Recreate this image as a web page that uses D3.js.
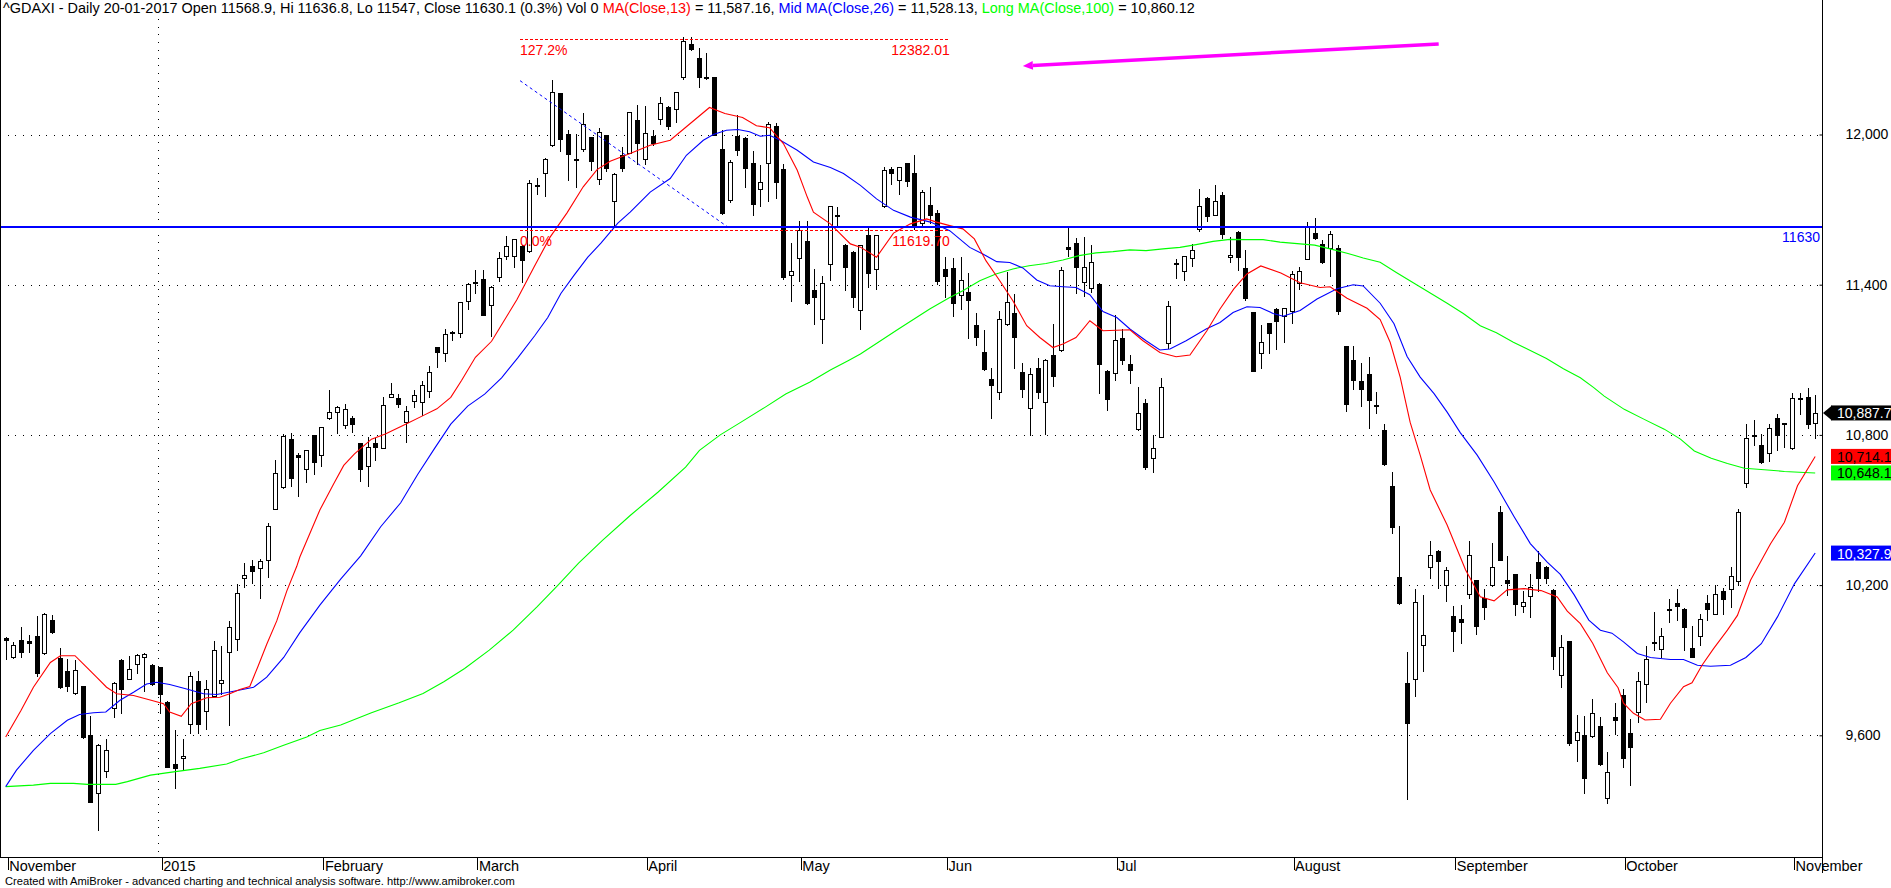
<!DOCTYPE html>
<html>
<head>
<meta charset="utf-8">
<script src="https://cdn.jsdelivr.net/npm/d3@7"></script>
<style>
  body { margin: 0; background: #fff; }
  svg { display: block; font-family: "Liberation Sans", Arial, sans-serif; }
  text { white-space: pre; }
</style>
</head>
<body>
<svg id="chart" width="1891" height="888"></svg>
<script>
// ^GDAXI daily bars, 28-11-2014 .. 05-11-2015
const openP = [
  9988, 9913, 9981, 9977, 9997, 9928, 10061, 9907, 9858, 9770,
  9795, 9600, 9368, 9456, 9710, 9902, 9825, 9885, 9913, 9882,
  9872, 9735, 9485, 9511, 9644, 9815, 9698, 9758, 9808, 9932,
  9984, 10228, 10275, 10268, 10302, 10505, 10591, 10783, 10721, 10663,
  10799, 10719, 10867, 10891, 10840, 10867, 10766, 10677, 10766, 10748,
  10952, 10947, 10851, 10934, 10931, 10976, 11151, 11129, 11210, 11208,
  11336, 11410, 11421, 11317, 11429, 11513, 11513, 11556, 11534, 11799,
  11847, 11957, 12164, 12003, 11900, 11944, 11989, 11823, 11997, 11735,
  11920, 11927, 12057, 11904, 11993, 12060, 12111, 12100, 12228, 12361,
  12307, 12224, 12228, 11944, 11737, 11995, 11988, 11888, 11784, 11886,
  12035, 11864, 11440, 11507, 11576, 11379, 11263, 11483, 11676, 11560,
  11532, 11299, 11597, 11463, 11713, 11864, 11817, 11886, 11846, 11646,
  11717, 11686, 11463, 11467, 11359, 11372, 11239, 11132, 11023, 10972,
  11243, 11287, 11052, 10907, 11067, 10933, 11119, 11139, 11552, 11567,
  11409, 11385, 11403, 11056, 11049, 11189, 11083, 10823, 10927, 10707,
  10793, 11169, 11483, 11453, 11507, 11623, 11747, 11679, 11759, 11509,
  11612, 11467, 11289, 11127, 11247, 11303, 11276, 11293, 11405, 11503,
  11608, 11564, 11548, 11548, 11154, 11101, 11014, 11044, 10917, 10821,
  10596, 10232, 9808, 9825, 9961, 10271, 10338, 10202, 10076, 10063,
  10165, 10219, 10150, 10199, 10493, 10219, 10243, 10117, 10156, 10292,
  10273, 10181, 9841, 9976, 9582, 9600, 9597, 9637, 9349, 9674,
  9761, 9608, 9692, 9803, 9968, 9943, 10100, 10130, 10106, 9950,
  9997, 10130, 10086, 10175, 10185, 10215, 10608, 10794, 10759, 10727,
  10866, 10843, 10747, 10942, 10953, 10846
];
const highP = [
  9992, 9973, 10033, 10000, 10077, 10090, 10081, 9947, 9905, 9902,
  9797, 9677, 9565, 9587, 9811, 9904, 9918, 9923, 9927, 9884,
  9874, 9737, 9620, 9587, 9852, 9855, 9819, 9977, 9958, 10057,
  10203, 10287, 10302, 10306, 10449, 10700, 10803, 10807, 10726, 10740,
  10801, 10832, 10979, 10914, 10923, 10875, 10768, 10791, 10787, 10952,
  11008, 10963, 10915, 10980, 11016, 11076, 11153, 11224, 11217, 11332,
  11406, 11458, 11460, 11394, 11529, 11595, 11584, 11558, 11818, 11828,
  11906, 12217, 12166, 12016, 12003, 12085, 11991, 12024, 11999, 11846,
  11952, 12090, 12118, 12115, 12017, 12150, 12113, 12170, 12389, 12389,
  12345, 12325, 12230, 12017, 11900, 12077, 11990, 11935, 11880, 12051,
  12044, 11884, 11567, 11653, 11653, 11463, 11436, 11713, 11710, 11562,
  11534, 11559, 11630, 11597, 11870, 11870, 11870, 11888, 11917, 11780,
  11790, 11697, 11510, 11507, 11512, 11445, 11285, 11220, 11067, 11296,
  11449, 11363, 11089, 11069, 11109, 11103, 11243, 11469, 11629, 11587,
  11589, 11559, 11405, 11058, 11280, 11223, 11119, 10992, 10943, 10800,
  11029, 11336, 11503, 11513, 11563, 11783, 11749, 11800, 11769, 11589,
  11614, 11539, 11291, 11240, 11249, 11307, 11307, 11456, 11472, 11651,
  11667, 11580, 11613, 11559, 11156, 11154, 11088, 11110, 10973, 10845,
  10650, 10435, 9931, 10183, 10161, 10378, 10340, 10271, 10115, 10120,
  10378, 10221, 10186, 10370, 10514, 10317, 10245, 10175, 10243, 10338,
  10275, 10183, 10001, 9978, 9681, 9678, 9745, 9674, 9532, 9730,
  9783, 9665, 9854, 9956, 10092, 10027, 10143, 10183, 10108, 10035,
  10086, 10162, 10201, 10189, 10274, 10504, 10842, 10858, 10803, 10842,
  10885, 10849, 10969, 10969, 10986, 10959
];
const lowP = [
  9905, 9909, 9911, 9931, 9838, 9925, 10008, 9788, 9776, 9766,
  9589, 9333, 9223, 9434, 9673, 9689, 9823, 9848, 9776, 9802,
  9689, 9472, 9388, 9461, 9609, 9609, 9625, 9756, 9766, 9642,
  9940, 10193, 10207, 10150, 10233, 10503, 10589, 10595, 10555, 10611,
  10645, 10677, 10865, 10806, 10827, 10811, 10615, 10597, 10698, 10746,
  10950, 10912, 10770, 10912, 10880, 10950, 11073, 11097, 11180, 11192,
  11304, 11368, 11278, 11196, 11413, 11501, 11470, 11409, 11532, 11762,
  11754, 11955, 11936, 11820, 11791, 11933, 11857, 11802, 11855, 11635,
  11854, 11925, 11884, 11884, 11957, 12040, 12021, 12050, 12220, 12339,
  12188, 12222, 11998, 11681, 11730, 11920, 11790, 11677, 11714, 11734,
  11746, 11423, 11336, 11416, 11323, 11243, 11169, 11419, 11630, 11379,
  11309, 11222, 11389, 11383, 11711, 11801, 11764, 11793, 11623, 11640,
  11646, 11403, 11349, 11273, 11303, 11189, 11159, 11061, 10867, 10943,
  11239, 11069, 10952, 10800, 10949, 10803, 10996, 11137, 11516, 11365,
  11356, 11372, 10967, 10899, 11019, 11083, 11007, 10821, 10665, 10653,
  10791, 11149, 11425, 11419, 11476, 11613, 11656, 11677, 11585, 11489,
  11459, 11339, 11054, 11069, 11127, 11143, 11173, 11249, 11383, 11501,
  11583, 11487, 11433, 11282, 10896, 10985, 10916, 10826, 10886, 10681,
  10407, 10126, 9344, 9756, 9858, 10227, 10190, 10136, 9935, 9967,
  10148, 10005, 10063, 10197, 10299, 10159, 10082, 10092, 10074, 10178,
  10210, 9866, 9792, 9560, 9497, 9369, 9595, 9483, 9329, 9604,
  9475, 9400, 9652, 9734, 9940, 9911, 10053, 10062, 9942, 9911,
  9960, 10062, 10084, 10086, 10112, 10199, 10590, 10760, 10688, 10694,
  10740, 10750, 10745, 10885, 10827, 10787
];
const closeP = [
  9980, 9960, 9931, 9968, 9848, 10085, 10011, 9792, 9796, 9862,
  9593, 9335, 9563, 9543, 9809, 9784, 9865, 9921, 9925, 9804,
  9764, 9474, 9470, 9519, 9838, 9645, 9783, 9940, 9819, 10032,
  10167, 10240, 10255, 10297, 10436, 10648, 10796, 10626, 10710, 10738,
  10690, 10830, 10891, 10912, 10904, 10844, 10663, 10751, 10751, 10920,
  10963, 10923, 10896, 10960, 11000, 11052, 11132, 11204, 11212, 11330,
  11404, 11408, 11280, 11392, 11505, 11553, 11582, 11498, 11807, 11796,
  11904, 12169, 11984, 11923, 11904, 12040, 11896, 12008, 11867, 11844,
  11867, 12088, 11968, 12004, 11968, 12124, 12033, 12168, 12375, 12341,
  12228, 12231, 12000, 11686, 11890, 11940, 11866, 11723, 11810, 12040,
  11810, 11430, 11456, 11619, 11325, 11352, 11407, 11713, 11678, 11470,
  11349, 11559, 11446, 11597, 11857, 11846, 11870, 11814, 11634, 11770,
  11679, 11416, 11436, 11327, 11419, 11339, 11193, 11063, 10999, 11263,
  11329, 11193, 10983, 11043, 10973, 11099, 11036, 11459, 11541, 11469,
  11469, 11489, 11083, 10943, 11179, 11099, 11059, 10889, 10673, 10747,
  10993, 11316, 11487, 11513, 11539, 11716, 11673, 11733, 11603, 11520,
  11509, 11347, 11056, 11173, 11209, 11253, 11306, 11443, 11453, 11635,
  11585, 11490, 11602, 11293, 10924, 11018, 10985, 10941, 10921, 10683,
  10432, 10128, 9649, 10132, 10001, 10320, 10297, 10260, 10017, 10051,
  10320, 10038, 10112, 10271, 10301, 10210, 10123, 10133, 10191, 10227,
  10230, 9915, 9951, 9570, 9612, 9428, 9688, 9485, 9453, 9661,
  9511, 9555, 9816, 9903, 9972, 9996, 10104, 10116, 10033, 9913,
  10066, 10106, 10165, 10146, 10236, 10491, 10789, 10798, 10690, 10829,
  10799, 10847, 10949, 10949, 10842, 10888
];

// moving averages, [bar index, value]
const maShort = [
  [0,9593],[2,9700],[3.6,9792],[5.8,9891],[7.1,9918],[9,9918],[10.3,9878],[11.8,9832],[13.1,9792],
  [14.4,9766],[16.6,9759],[19,9739],[20.5,9726],[21.3,9693],[22.8,9676],[24.1,9726],[26.1,9750],
  [27.8,9752],[29.1,9766],[30.4,9783],[31.7,9795],[32.8,9878],[33.9,9964],[35.2,10057],[36.5,10176],
  [37.8,10275],[38.2,10312],[40.8,10500],[42.6,10605],[43.9,10678],[45.3,10724],[47.5,10783],
  [49.3,10804],[52,10844],[54.2,10877],[56,10904],[57.8,10950],[59.2,11017],[61,11110],[63.1,11174],
  [66.4,11341],[68.6,11470],[70.7,11590],[72.9,11687],[75,11791],[76.8,11860],[78.5,11893],
  [81.1,11924],[83.7,11957],[86.3,11977],[88.4,12031],[91.4,12108],[93.4,12084],[95.7,12068],
  [97.5,12035],[99.2,12027],[101,11964],[102.8,11857],[104.1,11750],[104.9,11690],[107.1,11643],
  [109.7,11563],[111,11550],[113.1,11510],[115.3,11606],[117.5,11643],[119.6,11663],[120.9,11650],
  [122.6,11636],[124.3,11623],[125.8,11583],[127.3,11496],[129.1,11416],[130.8,11336],[132.6,11236],
  [134.3,11189],[136,11149],[137.3,11163],[139,11189],[140.8,11256],[142.5,11216],[146,11220],
  [147.7,11176],[149.9,11129],[152,11112],[153.8,11119],[156,11216],[157.7,11303],[159.5,11383],
  [161.2,11443],[163,11475],[165.6,11447],[168.1,11408],[170.7,11389],[172,11392],[174.2,11346],
  [176.8,11306],[178.5,11261],[179.8,11170],[181.1,11031],[182.4,10850],[183.7,10719],[185,10580],
  [187.2,10440],[189.6,10260],[191.5,10153],[193.3,10137],[195,10181],[197.2,10186],[199.4,10178],
  [201.5,10153],[202.8,10096],[204.5,10046],[206.1,9968],[208,9850],[209.4,9790],[210.1,9728],
  [211.4,9688],[212.9,9661],[214.9,9664],[216.2,9728],[217.9,9794],[219,9810],[220.3,9880],
  [221.8,9946],[223.6,10020],[224.9,10079],[226.6,10219],[229.2,10365],[231,10451],[232.7,10597],
  [235,10714]
];
const maMid = [
  [0,9395],[1.4,9461],[3.6,9540],[5.8,9607],[8,9660],[9.6,9683],[11.4,9690],[13,9693],[14.8,9739],
  [16.6,9772],[18.3,9805],[19.6,9812],[21.3,9803],[23.5,9785],[25.7,9766],[27.4,9763],[29.6,9776],
  [32.2,9792],[33.9,9832],[36.1,9911],[38.2,10010],[40.8,10120],[43.5,10224],[46.1,10317],
  [48.7,10433],[51.3,10529],[53.5,10642],[55.7,10746],[57.8,10843],[60,10915],[62.2,10963],
  [64.4,11028],[66.5,11108],[68.7,11196],[70.4,11269],[72.1,11365],[73.8,11437],[75.6,11510],
  [77.3,11566],[79.5,11646],[81.1,11690],[83.7,11770],[86.3,11824],[88.4,11917],[90.6,11977],
  [91.9,12000],[93.6,12017],[95.1,12020],[96.6,12011],[98,11993],[99.2,11997],[100.6,11977],
  [102.8,11937],[104.9,11890],[107.1,11868],[108.8,11844],[111,11797],[113.1,11743],[115.3,11697],
  [117.5,11670],[120.1,11650],[122.6,11616],[125.2,11549],[126.9,11523],[128.7,11492],[130.4,11489],
  [132.1,11467],[133.9,11419],[135.6,11396],[137.3,11392],[139,11389],[140.8,11360],[142.5,11293],
  [144.3,11269],[146,11223],[148.1,11176],[149.9,11139],[151.2,11143],[153.3,11176],[155.9,11223],
  [157.7,11249],[159.4,11289],[161.2,11312],[162.9,11309],[164.6,11285],[165.9,11274],[168.1,11297],
  [170.3,11343],[172.9,11384],[175,11400],[176.3,11395],[178.5,11326],[180.3,11244],[182,11113],
  [183.7,11031],[185.5,10965],[187.2,10891],[188.9,10809],[191.1,10719],[193.3,10612],[195.9,10473],
  [198,10366],[200.2,10292],[201.9,10243],[203.7,10161],[205.6,10060],[207.1,10020],[208.6,10008],
  [210.1,9973],[211.9,9927],[213.6,9911],[216.2,9903],[217.9,9903],[219.7,9880],[221.4,9876],
  [224,9880],[226,9911],[228,9966],[230.1,10073],[232.3,10205],[235,10328]
];
const maLong = [
  [0,9395],[3.6,9401],[5.8,9408],[8.8,9408],[10.6,9404],[14.3,9404],[15.8,9415],[18.8,9441],
  [21.8,9454],[25.2,9468],[28.7,9485],[30.4,9504],[33.5,9530],[36.1,9560],[39.1,9593],[40.8,9619],
  [43.5,9641],[47.5,9690],[51.1,9730],[54.2,9767],[56.9,9814],[59.6,9867],[62.8,9940],[65.9,10020],
  [69,10113],[71.7,10199],[74.4,10288],[77.5,10379],[81.1,10478],[84.7,10571],[88.3,10671],
  [90.1,10738],[92.8,10800],[95.5,10851],[98.6,10910],[101.3,10963],[104.4,11010],[107.1,11059],
  [109.4,11096],[111,11123],[115.9,11222],[120,11303],[122.6,11349],[124.3,11376],[126.5,11416],
  [128.6,11443],[130.8,11463],[132.9,11476],[135.1,11485],[137.3,11499],[139.4,11516],[141.6,11527],
  [143.8,11532],[146,11539],[148.1,11536],[150.3,11543],[152.5,11549],[154.6,11560],[156.8,11573],
  [159,11581],[161.2,11580],[163.3,11580],[165.5,11570],[168.1,11563],[170,11558],[172,11543],
  [174.2,11526],[176.3,11507],[178.5,11490],[180.6,11449],[182.8,11408],[185,11367],[187.2,11326],
  [189.3,11285],[191.5,11236],[193.6,11208],[195.8,11170],[198,11137],[200.1,11105],[202.3,11064],
  [204.5,11028],[206.2,10990],[207.6,10955],[210.2,10902],[212.8,10862],[215.4,10823],[217.5,10783],
  [219.3,10736],[221.5,10707],[223.6,10686],[225.8,10667],[228.4,10661],[231,10654],[233.6,10650],
  [235,10648]
];

const priceTicks = [9600, 10200, 10800, 11400, 12000];
const monthLabels = ["November", "2015", "February", "March", "April", "May", "Jun", "Jul",
  "August", "September", "October", "November"];
const monthStart = [0, 20, 41, 61, 83, 103, 122, 144, 167, 188, 210, 232];
const yearStart = [20];

// drawing tools on the chart
const hLine = 11630;
const fibLevels = [12382.01, 11619.70];
const fibPct = ["127.2%", "0.0%"];
const fibSpan = [66.8, 122.6];
const trendLine = [[66.8, 12215], [93.8, 11630]];
const arrowLine = [[186.1, 12362], [132.1, 12274]];

const lastValues = [10887.7, 10714.1, 10648.1, 10327.9];
const lastFill = ["#000000", "#ff0000", "#00ff00", "#0000ff"];
const lastInk = ["#ffffff", "#000000", "#000000", "#ffffff"];

const titleParts = [
  "^GDAXI - Daily 20-01-2017 Open 11568.9, Hi 11636.8, Lo 11547, Close 11630.1 (0.3%) Vol 0 ",
  "MA(Close,13)", " = 11,587.16, ", "Mid MA(Close,26)", " = 11,528.13, ",
  "Long MA(Close,100)", " = 10,860.12"
];
const titleInk = ["#000", "#ff0000", "#000", "#0000ff", "#000", "#00ff00", "#000"];

const W = 1891, H = 888;
const PLOT_R = 1822, AXIS_Y = 857;

const svg = d3.select("#chart");
const x = d3.scaleLinear().domain([0, 235]).range([5.7, 1815.2]);
const y = d3.scaleLinear().domain([9600, 12000]).range([735.3, 134.5]);
const px = v => Math.round(x(v));
const py = v => Math.round(y(v));

svg.append("rect").attr("width", W).attr("height", H).attr("fill", "#fff");

// dotted grid
const grid = svg.append("g").attr("shape-rendering", "crispEdges");
grid.selectAll("line.h").data(priceTicks).join("line")
  .attr("x1", 0).attr("x2", PLOT_R)
  .attr("y1", d => py(d) + 0.5).attr("y2", d => py(d) + 0.5)
  .attr("stroke", "#000").attr("stroke-dasharray", "1,6.7");
grid.selectAll("line.v").data(yearStart).join("line")
  .attr("x1", d => px(d) - 1.5).attr("x2", d => px(d) - 1.5)
  .attr("y1", 19).attr("y2", AXIS_Y)
  .attr("stroke", "#000").attr("stroke-dasharray", "1,6.7");

// candles
const bars = d3.range(openP.length).map(i => ({
  i, o: openP[i], h: highP[i], l: lowP[i], c: closeP[i]
}));
const cg = svg.append("g").attr("shape-rendering", "crispEdges");
const candle = cg.selectAll("g").data(bars).join("g");
candle.append("line")
  .attr("x1", d => px(d.i) + 0.5).attr("x2", d => px(d.i) + 0.5)
  .attr("y1", d => py(d.h)).attr("y2", d => py(d.l) + 1)
  .attr("stroke", "#000");
candle.append("rect")
  .attr("x", d => px(d.i) - 1.5)
  .attr("y", d => py(Math.max(d.o, d.c)) + 0.5)
  .attr("width", 4)
  .attr("height", d => Math.max(1, py(Math.min(d.o, d.c)) - py(Math.max(d.o, d.c))))
  .attr("fill", d => d.c < d.o ? "#000" : "#fff")
  .attr("stroke", "#000");

// moving averages
const line = d3.line().x(d => x(d[0])).y(d => y(d[1]));
[[maLong, "#00ff00"], [maMid, "#0000ff"], [maShort, "#ff0000"]].forEach(([s, col]) => {
  svg.append("path").datum(s).attr("d", line)
    .attr("fill", "none").attr("stroke", col).attr("stroke-width", 1.1);
});

// trend line
svg.append("path").datum(trendLine).attr("d", line)
  .attr("fill", "none").attr("stroke", "#0000ff").attr("stroke-width", 1)
  .attr("stroke-dasharray", "3,3");

// fibonacci levels
const fib = svg.append("g");
fib.selectAll("line").data(fibLevels).join("line")
  .attr("x1", x(fibSpan[0])).attr("x2", x(fibSpan[1]))
  .attr("y1", d => py(d) + 0.5).attr("y2", d => py(d) + 0.5)
  .attr("stroke", "#ff0000").attr("stroke-dasharray", "3,2")
  .attr("shape-rendering", "crispEdges");
fib.selectAll("text.p").data(fibLevels).join("text")
  .attr("x", x(fibSpan[0])).attr("y", d => py(d) + 16)
  .attr("font-size", 14).attr("fill", "#ff0000")
  .text((d, i) => fibPct[i]);
fib.selectAll("text.v").data(fibLevels).join("text")
  .attr("x", x(fibSpan[1])).attr("y", d => py(d) + 16)
  .attr("text-anchor", "end")
  .attr("font-size", 14).attr("fill", "#ff0000")
  .text(d => d3.format(".2f")(d));

// horizontal study line
svg.append("line")
  .attr("x1", 0).attr("x2", PLOT_R)
  .attr("y1", y(hLine)).attr("y2", y(hLine))
  .attr("stroke", "#0000ff").attr("stroke-width", 2);
svg.append("text")
  .attr("x", PLOT_R - 2).attr("y", y(hLine) + 15)
  .attr("text-anchor", "end").attr("font-size", 14).attr("fill", "#0000ff")
  .text(hLine);

// magenta arrow
{
  const [a, b] = arrowLine.map(p => [x(p[0]), y(p[1])]);
  const ang = Math.atan2(b[1] - a[1], b[0] - a[0]);
  const back = 10, half = 4.5;
  const bx = b[0] - back * Math.cos(ang), by = b[1] - back * Math.sin(ang);
  svg.append("line")
    .attr("x1", a[0]).attr("y1", a[1]).attr("x2", bx).attr("y2", by)
    .attr("stroke", "#ff00ff").attr("stroke-width", 3.5);
  svg.append("polygon")
    .attr("points", [
      b,
      [bx - half * Math.sin(ang), by + half * Math.cos(ang)],
      [bx + half * Math.sin(ang), by - half * Math.cos(ang)]
    ].map(p => p.join(",")).join(" "))
    .attr("fill", "#ff00ff");
}

// frame
const frame = svg.append("g").attr("shape-rendering", "crispEdges").attr("stroke", "#000");
frame.append("line").attr("x1", 0.5).attr("x2", 0.5).attr("y1", 0).attr("y2", AXIS_Y);
frame.append("line").attr("x1", 0).attr("x2", PLOT_R).attr("y1", AXIS_Y + 0.5).attr("y2", AXIS_Y + 0.5);
frame.append("line").attr("x1", PLOT_R + 0.5).attr("x2", PLOT_R + 0.5).attr("y1", 0).attr("y2", 873);

// price axis
const yAxis = d3.axisRight(y).tickValues(priceTicks)
  .tickFormat(d3.format(",")).tickSize(-3).tickPadding(23);
const ya = svg.append("g").attr("transform", `translate(${PLOT_R + 0.5},0)`).call(yAxis);
ya.select(".domain").remove();
ya.selectAll("text").attr("font-size", 14).attr("font-family", "Liberation Sans, Arial").attr("fill", "#000");
ya.selectAll("line").attr("stroke", "#000");

// date axis
const xAxis = d3.axisBottom(x).tickValues(monthStart)
  .tickFormat((d, i) => monthLabels[i]).tickSize(13);
const xa = svg.append("g").attr("transform", `translate(2,${AXIS_Y})`).call(xAxis);
xa.select(".domain").remove();
xa.selectAll("line").attr("stroke", "#000").attr("shape-rendering", "crispEdges");
xa.selectAll("text")
  .attr("text-anchor", "start").attr("x", 1).attr("y", 14).attr("dy", null)
  .attr("font-size", 14.5).attr("font-family", "Liberation Sans, Arial").attr("fill", "#000");

// last-value tags
const tags = svg.append("g");
lastValues.forEach((v, k) => {
  const cy = y(v);
  if (k === 0) {
    tags.append("polygon")
      .attr("points", `${PLOT_R + 1},${cy} ${PLOT_R + 10},${cy - 7.5} ${PLOT_R + 10},${cy + 7.5}`)
      .attr("fill", lastFill[k]);
  }
  tags.append("rect")
    .attr("x", PLOT_R + 9).attr("y", cy - 7.5)
    .attr("width", W - PLOT_R - 9).attr("height", 15)
    .attr("fill", lastFill[k]);
  tags.append("text")
    .attr("x", PLOT_R + 15).attr("y", cy + 5.5)
    .attr("font-size", 14).attr("fill", lastInk[k])
    .text(d3.format(",.1f")(v));
});

// title line
const title = svg.append("text").attr("x", 3).attr("y", 13).attr("font-size", 13);
title.selectAll("tspan").data(titleParts).join("tspan")
  .attr("fill", (d, i) => titleInk[i]).text(d => d);
{
  const w = title.node().getComputedTextLength();
  title.attr("font-size", 13 * 1193 / w);
}

// footer
const foot = svg.append("text").attr("x", 5).attr("y", 885).attr("font-size", 10)
  .attr("fill", "#000")
  .text("Created with AmiBroker - advanced charting and technical analysis software. http://www.amibroker.com");
{
  const w = foot.node().getComputedTextLength();
  foot.attr("font-size", 10 * 510 / w);
}
</script>
</body>
</html>
